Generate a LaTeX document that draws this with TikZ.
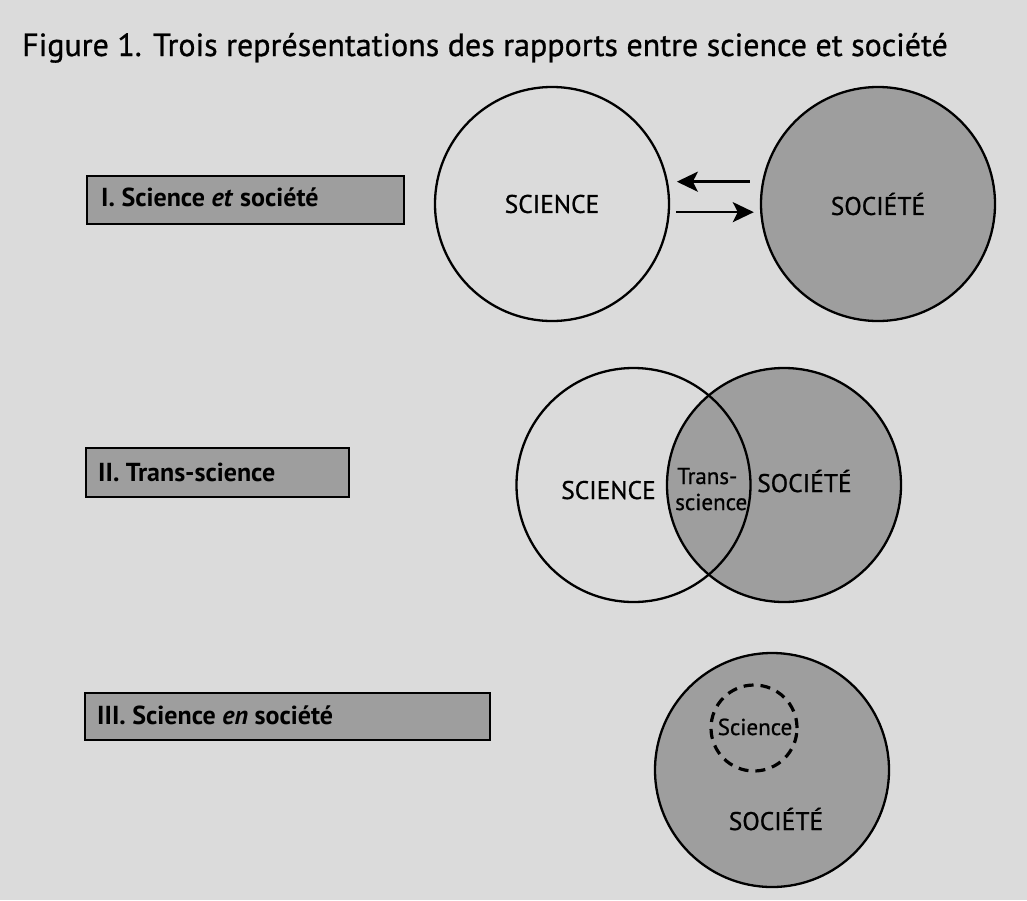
\documentclass[tikz,border=0pt]{standalone}
\usepackage{fontspec}
\setmainfont{PT Sans}[UprightFeatures={FakeBold=0.8}]
\usetikzlibrary{arrows.meta}
\definecolor{bgc}{gray}{0.86}
\definecolor{fillc}{gray}{0.62}
\begin{document}
\begin{tikzpicture}[x=1pt,y=-1pt,
  circ/.style={circle, draw=black, line width=2.3pt, inner sep=0pt, outer sep=0pt, minimum size=234pt, font=\fontsize{25.5}{30}\selectfont},
  labelbox/.style={draw=black, line width=2pt, fill=fillc, inner sep=0pt, anchor=north west},
  boxtext/.style={anchor=base west, inner sep=0pt, font=\fontsize{26}{30}\selectfont\bfseries},
  bigtext/.style={inner sep=0pt, font=\fontsize{25.5}{30}\selectfont},
  smalltext/.style={inner sep=0pt, font=\fontsize{23}{27}\selectfont},
  arr/.style={line width=2.6pt, -{Stealth[length=21pt,width=20pt,inset=5pt]}}]
\fill[bgc] (0,0) rectangle (1027,900);
\useasboundingbox (0,0) rectangle (1027,900);

% title
\node[anchor=base west, inner sep=0pt, font=\fontsize{32}{36}\selectfont] (title) at (22,56)
  {Figure 1. Trois représentations des rapports entre science et société};

% I
\node[labelbox, minimum width=317pt, minimum height=48pt] (boxI) at (86,175) {};
\node[boxtext] (tI) at (101,206) {I. Science \textit{et} société};
\node[circ] (sciI) at (552,204) {SCIENCE};
\node[circ, fill=fillc] (socI) at (878,204) {SOCIÉTÉ};
\draw[arr, shorten <=13.6pt, shorten >=10pt] (socI.169) -- (sciI.11);
\draw[arr, shorten <=7.5pt, shorten >=7.5pt] (sciI.-4) -- (socI.184);

% II
\node[labelbox, minimum width=263pt, minimum height=49pt] (boxII) at (85,447) {};
\node[boxtext] (tII) at (98,481) {II. Trans-science};
\node[circ, fill=fillc] (socII) at (784,485) {};
\node[circ] (sciII) at (633.5,485) {};
\node[bigtext, anchor=base west] (lsciII) at (561,499) {SCIENCE};
\node[bigtext, anchor=base west] (lsocII) at (757,492) {SOCIÉTÉ};
\node[smalltext, anchor=base west] (tsA) at (677,484) {Trans-};
\node[smalltext, anchor=base west] (tsB) at (675,510) {science};

% III
\node[labelbox, minimum width=405pt, minimum height=47pt] (boxIII) at (84,692) {};
\node[boxtext] (tIII) at (97,724) {III. Science \textit{en} société};
\node[circ, fill=fillc] (socIII) at (772,770) {};
\node[circle, draw=black, line width=3.2pt, dash pattern=on 10pt off 7pt, inner sep=0pt, minimum size=86pt] (sciIII) at (754,728) {};
\node[smalltext, anchor=base] (lsciIII) at (755,735) {Science};
\node[bigtext, anchor=base] (lsocIII) at (776,830) {SOCIÉTÉ};
\end{tikzpicture}
\end{document}
